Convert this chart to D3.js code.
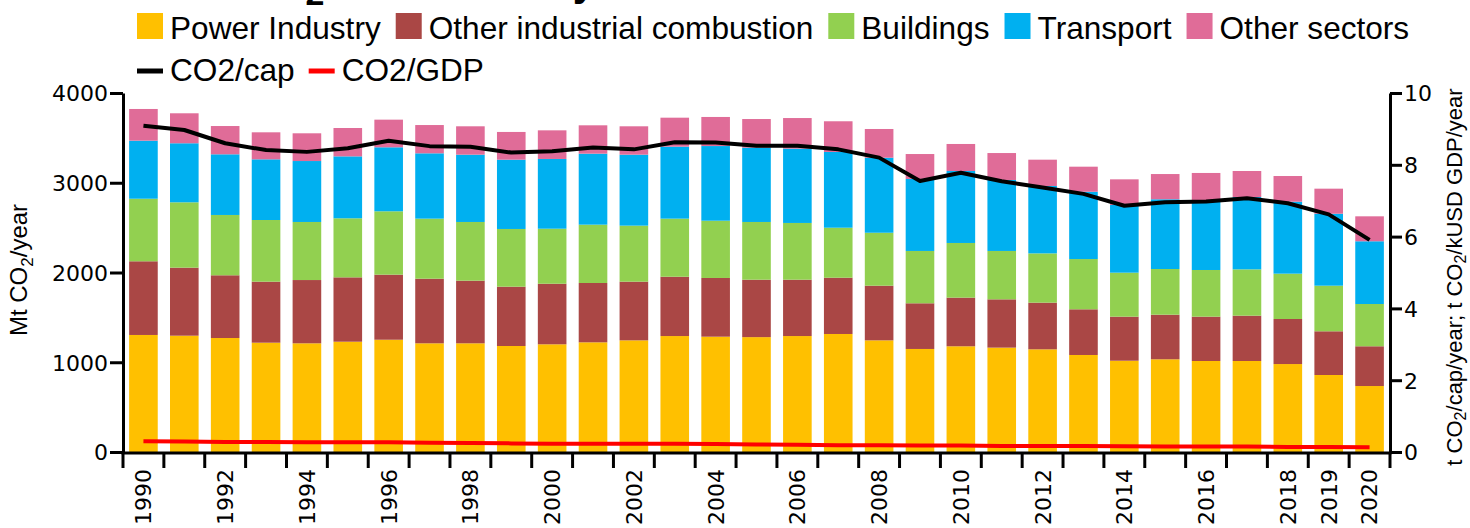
<!DOCTYPE html>
<html>
<head>
<meta charset="utf-8">
<script src="https://cdn.jsdelivr.net/npm/d3@7"></script>
<style>
  body { margin: 0; background: #fff; }
  svg { display: block; }
  text { font-family: "Liberation Sans", Arial, sans-serif; fill: #000; }
  .num text, text.num { font-family: "DejaVu Sans", sans-serif; font-size: 22px; }
</style>
</head>
<body>
<svg id="chart" width="1470" height="528"></svg>
<script>
// years on the x axis
var years = [1990,1991,1992,1993,1994,1995,1996,1997,1998,1999,2000,2001,2002,2003,2004,
             2005,2006,2007,2008,2009,2010,2011,2012,2013,2014,2015,2016,2017,2018,2019,2020];
var yearLabels = [1990,1992,1994,1996,1998,2000,2002,2004,2006,2008,2010,2012,2014,2016,2018,2019,2020];

// Mt CO2 per sector
var powerIndustry = [1304,1296,1270,1218,1211,1229,1251,1211,1211,1181,1200,1222,1244,1292,1285,
                     1280,1292,1315,1244,1148,1178,1163,1144,1081,1017,1033,1014,1014,980,858,735];
var otherIndustrial = [821,758,699,680,705,717,725,720,698,661,675,661,654,661,654,
                       640,628,627,609,509,542,538,520,509,491,497,494,505,502,487,443];
var buildings = [697,728,672,687,647,658,706,669,654,643,613,650,624,647,638,
                 643,632,557,590,583,609,539,549,560,490,509,520,516,505,508,471];
var transport = [647,658,676,676,679,690,713,728,750,772,777,791,791,802,832,
                 828,828,844,836,802,802,791,751,750,754,777,769,806,802,802,699];
var otherSectors = [353,334,315,301,309,316,308,315,316,309,319,316,316,323,324,
                    319,341,342,320,278,301,300,293,279,286,281,312,290,286,279,278];

// t CO2 per capita and t CO2 per kUSD GDP
var co2PerCap = [9.09,8.97,8.60,8.41,8.36,8.46,8.67,8.52,8.50,8.34,8.38,8.48,8.43,8.63,8.62,
                 8.53,8.53,8.43,8.20,7.55,7.78,7.54,7.37,7.19,6.86,6.96,6.98,7.07,6.93,6.62,5.91];
var co2PerGdp = [0.30,0.29,0.28,0.28,0.27,0.27,0.27,0.26,0.25,0.24,0.23,0.23,0.23,0.23,0.22,
                 0.21,0.20,0.19,0.19,0.18,0.18,0.17,0.17,0.17,0.16,0.15,0.15,0.15,0.14,0.14,0.13];

var sectorNames = ["Power Industry","Other industrial combustion","Buildings","Transport","Other sectors"];
var sectorColors = ["#ffc000","#aa4745","#92d050","#00b0f0","#e06c98"];
var sectorValues = [powerIndustry, otherIndustrial, buildings, transport, otherSectors];

var svg = d3.select("#chart");
var plotLeft = 123, plotRight = 1390, plotTop = 93, plotBottom = 452, axisY = 453;

var x = d3.scaleBand().domain(years).range([plotLeft, plotRight]).paddingInner(0.3).paddingOuter(0.15);
var yL = d3.scaleLinear().domain([0, 4000]).range([plotBottom, plotTop]);
var yR = d3.scaleLinear().domain([0, 10]).range([plotBottom, plotTop]);

// stack the sectors
var rows = years.map(function (yr, i) {
    var r = { year: yr };
    sectorNames.forEach(function (n, k) { r[n] = sectorValues[k][i]; });
    return r;
});
var stacked = d3.stack().keys(sectorNames)(rows);

svg.append("g").selectAll("g")
    .data(stacked)
    .enter().append("g")
    .attr("fill", function (d, k) { return sectorColors[k]; })
    .selectAll("rect")
    .data(function (d) { return d; })
    .enter().append("rect")
    .attr("x", function (d) { return x(d.data.year); })
    .attr("width", x.bandwidth())
    .attr("y", function (d) { return yL(d[1]); })
    .attr("height", function (d) { return yL(d[0]) - yL(d[1]); });

// lines
var lineCap = d3.line()
    .x(function (d, i) { return x(years[i]) + x.bandwidth() / 2; })
    .y(function (d) { return yR(d); });

svg.append("path").datum(co2PerGdp)
    .attr("d", lineCap).attr("fill", "none")
    .attr("stroke", "#ff0000").attr("stroke-width", 4);
svg.append("path").datum(co2PerCap)
    .attr("d", lineCap).attr("fill", "none")
    .attr("stroke", "#000").attr("stroke-width", 4).attr("stroke-linejoin", "round");

// left axis
var gL = svg.append("g").attr("class", "num")
    .attr("transform", "translate(" + plotLeft + ",0)")
    .call(d3.axisLeft(yL).tickValues([0,1000,2000,3000,4000]).tickFormat(d3.format("d"))
        .tickSize(13).tickSizeOuter(0).tickPadding(2));
gL.selectAll("line").attr("stroke-width", 3);
gL.select(".domain").attr("stroke-width", 3);
gL.selectAll("text").attr("dy", "0.36em");

// right axis
var gR = svg.append("g").attr("class", "num")
    .attr("transform", "translate(" + plotRight + ",0)")
    .call(d3.axisRight(yR).tickValues([0,2,4,6,8,10]).tickSize(12).tickSizeOuter(0).tickPadding(2));
gR.selectAll("line").attr("stroke-width", 3);
gR.select(".domain").attr("stroke-width", 3);
gR.selectAll("text").attr("dy", "0.36em");

// x axis: line, ticks at band edges, rotated labels
var step = x.step();
var edges = years.map(function (yr) { return x(yr) - step * x.paddingInner() / 2; });
edges.push(plotRight);
svg.append("line").attr("x1", plotLeft - 1.5).attr("x2", plotRight + 1.5)
    .attr("y1", axisY).attr("y2", axisY).attr("stroke", "#000").attr("stroke-width", 3);
svg.append("g").selectAll("line").data(edges).enter().append("line")
    .attr("x1", function (d) { return d; }).attr("x2", function (d) { return d; })
    .attr("y1", axisY).attr("y2", 468)
    .attr("stroke", "#000").attr("stroke-width", 3);

var gX = svg.append("g").attr("class", "num")
    .attr("transform", "translate(0," + axisY + ")")
    .call(d3.axisBottom(x).tickSize(0).tickFormat(function (d) {
        return yearLabels.indexOf(d) >= 0 ? d : "";
    }));
gX.select(".domain").remove();
gX.selectAll("text")
    .attr("transform", "rotate(-90)")
    .attr("text-anchor", "end")
    .attr("x", -16).attr("y", 0).attr("dy", "0.36em");

// axis titles
var tl = svg.append("text").attr("transform", "translate(27,270) rotate(-90)")
    .attr("text-anchor", "middle").style("font-size", "24px");
tl.append("tspan").text("Mt CO");
tl.append("tspan").text("2").style("font-size", "17px").attr("dy", 6);
tl.append("tspan").text("/year").attr("dy", -6);

var tr = svg.append("text").attr("transform", "translate(1462,277) rotate(-90)")
    .attr("text-anchor", "middle").style("font-size", "22px");
tr.append("tspan").text("t CO");
tr.append("tspan").text("2").style("font-size", "16px").attr("dy", 4);
tr.append("tspan").text("/cap/year; t CO").attr("dy", -4);
tr.append("tspan").text("2").style("font-size", "16px").attr("dy", 4);
tr.append("tspan").text("/kUSD GDP/year").attr("dy", -4);

// title, mostly cut off by the top edge
var tt = svg.append("text").attr("x", 114).attr("y", -4)
    .style("font-size", "41px").style("font-weight", "bold");
tt.append("tspan").text("Fossil CO");
tt.append("tspan").text("2").style("font-size", "34px").attr("dy", 9);
tt.append("tspan").text(" emissions by sector").attr("dy", -9);

// legend
var lg = svg.append("g").style("font-size", "31.6px");
var lx = 137;
sectorNames.forEach(function (n, k) {
    lg.append("rect").attr("x", lx).attr("y", 13).attr("width", 26).attr("height", 26)
        .attr("fill", sectorColors[k]);
    var t = lg.append("text").attr("x", lx + 33).attr("y", 39).text(n);
    lx += 33 + t.node().getComputedTextLength() + 15;
});
var lineItems = [["CO2/cap", "#000"], ["CO2/GDP", "#ff0000"]];
lx = 137;
lineItems.forEach(function (it) {
    lg.append("line").attr("x1", lx).attr("x2", lx + 26).attr("y1", 71).attr("y2", 71)
        .attr("stroke", it[1]).attr("stroke-width", 5);
    var t = lg.append("text").attr("x", lx + 33).attr("y", 81).text(it[0]);
    lx += 33 + t.node().getComputedTextLength() + 14;
});
</script>
</body>
</html>
